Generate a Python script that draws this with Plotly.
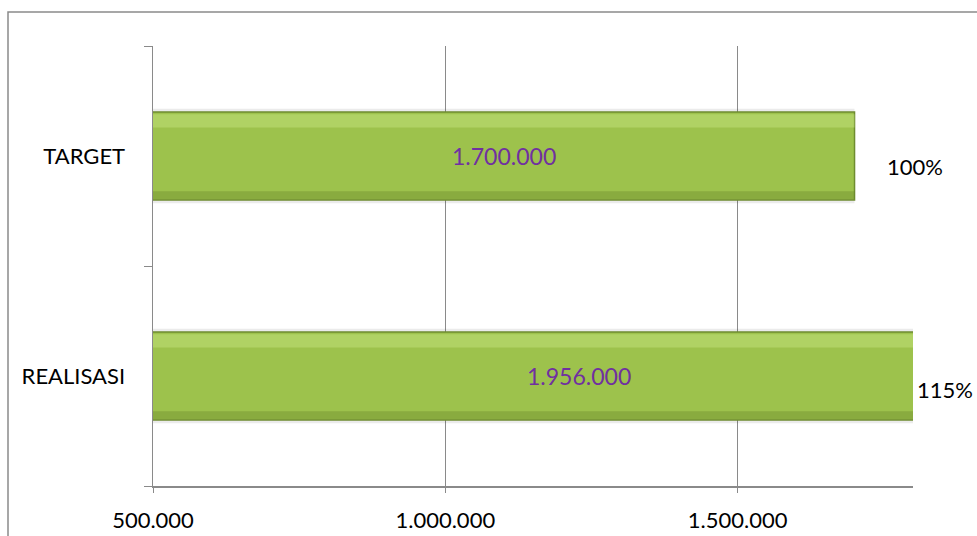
import plotly.graph_objects as go

categories = ["REALISASI", "TARGET"]
values = [1956000, 1700000]
value_labels = ["1.956.000", "1.700.000"]
pct_labels = ["115%", "100%"]
x_tickvals = [500000, 1000000, 1500000]
x_ticktext = ["500.000", "1.000.000", "1.500.000"]
X_MIN, X_MAX = 500000, 1800000

FONT = "Lato, 'Open Sans', sans-serif"
GRAY = "#8a8a8a"

fig = go.Figure()
# soft shadow under bars
fig.add_trace(go.Bar(
    y=categories, x=values, orientation="h",
    marker=dict(color="rgba(0,0,0,0.08)", line=dict(width=0)),
    width=0.43, offset=-0.215, hoverinfo="skip", showlegend=False,
))
fig.add_trace(go.Bar(
    y=categories, x=values, orientation="h",
    marker=dict(color="#9dc24c", line=dict(color="#6f8c30", width=1.5)),
    width=0.4, hoverinfo="skip", showlegend=False,
))
# top highlight band
fig.add_trace(go.Bar(
    y=categories, x=values, orientation="h",
    marker=dict(color="rgba(200,230,130,0.45)", line=dict(width=0)),
    width=0.06, offset=0.13, hoverinfo="skip", showlegend=False,
))
# bottom darker band
fig.add_trace(go.Bar(
    y=categories, x=values, orientation="h",
    marker=dict(color="rgba(100,130,40,0.35)", line=dict(width=0)),
    width=0.035, offset=-0.195, hoverinfo="skip", showlegend=False,
))

annotations = []
for cat, v, lab, pct in zip(categories, values, value_labels, pct_labels):
    annotations.append(dict(
        x=(X_MIN + v) / 2, y=cat, xref="x", yref="y", text=lab, showarrow=False,
        font=dict(family=FONT, size=23, color="#7030a0"),
    ))
    clipped = v > X_MAX
    annotations.append(dict(
        x=min(v, X_MAX), y=cat, xref="x", yref="y", text=pct, showarrow=False,
        xanchor="left", xshift=2 if clipped else 30, yshift=-13 if clipped else -10,
        font=dict(family=FONT, size=22, color="#000000"),
    ))

fig.update_layout(
    width=977, height=536,
    margin=dict(l=153, r=64, t=46, b=50, autoexpand=False),
    paper_bgcolor="white", plot_bgcolor="white",
    barmode="overlay",
    annotations=annotations,
    shapes=[dict(type="rect", xref="paper", yref="paper",
                 x0=(8 - 153) / 760, x1=1.2, y0=-0.3, y1=(486 - 12) / 440,
                 line=dict(color=GRAY, width=1.5), layer="below")],
    xaxis=dict(
        range=[X_MIN, X_MAX], tickvals=x_tickvals, ticktext=x_ticktext,
        showgrid=True, gridcolor=GRAY, gridwidth=1,
        showline=True, linecolor=GRAY, linewidth=1.5,
        ticks="outside", ticklen=5, tickcolor=GRAY,
        ticklabelstandoff=9, automargin=False,
        tickfont=dict(family=FONT, size=22, color="#000000"),
        zeroline=False, fixedrange=True,
    ),
    yaxis=dict(
        type="category", categoryorder="array", categoryarray=categories,
        range=[-0.5, 1.5], tickson="boundaries",
        showline=True, linecolor=GRAY, linewidth=1.5,
        ticks="outside", ticklen=8, tickcolor=GRAY,
        ticklabelstandoff=22, showgrid=False, automargin=False,
        tickfont=dict(family=FONT, size=22, color="#000000"),
        fixedrange=True,
    ),
)

fig.write_html(
    "out.html",
    config={"displayModeBar": False, "staticPlot": True},
    post_script="document.body.style.margin='0';document.body.style.overflow='hidden';",
)
